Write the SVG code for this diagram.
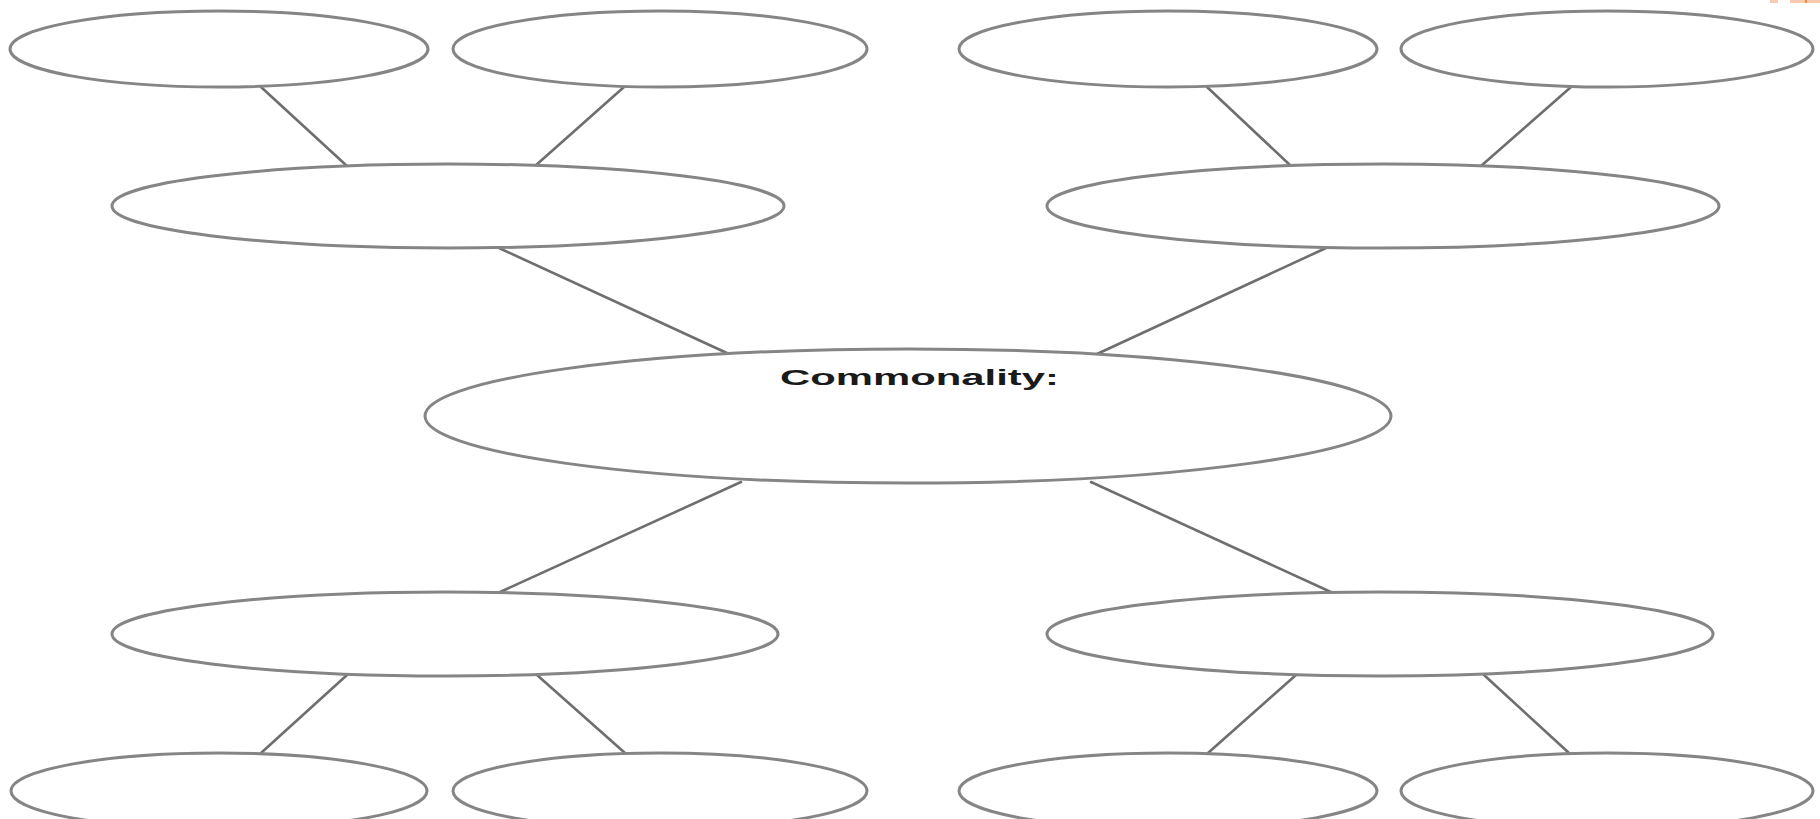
<svg xmlns="http://www.w3.org/2000/svg" width="1820" height="819" viewBox="0 0 1820 819">
<style>
.node ellipse{fill:#ffffff;stroke:#858585;stroke-width:3}
.conn line{stroke:#6e6e6e;stroke-width:2.6;stroke-linecap:round}
.lbl{font-family:"Liberation Sans",Arial,sans-serif;font-weight:bold;font-size:22px;fill:#1a1a1a}
</style>
<rect x="0" y="0" width="1820" height="819" fill="#ffffff"/>
<rect x="1770" y="0" width="8" height="3" fill="#fbc9ad"/>
<rect x="1790" y="0" width="30" height="3" fill="#fbc9ad"/>
<rect x="1805" y="0" width="2" height="3" fill="#f08a4b"/>
<g class="conn" id="connectors">
<line x1="261" y1="87" x2="347" y2="166"/>
<line x1="624" y1="87" x2="535" y2="166"/>
<line x1="1207" y1="87" x2="1291" y2="166"/>
<line x1="1571" y1="87" x2="1481" y2="166"/>
<line x1="499" y1="248" x2="729" y2="354"/>
<line x1="1326" y1="248" x2="1097" y2="354"/>
<line x1="741" y1="482" x2="498" y2="593"/>
<line x1="1091" y1="482" x2="1333" y2="593"/>
<line x1="347" y1="675" x2="261" y2="753"/>
<line x1="537" y1="675" x2="625" y2="753"/>
<line x1="1296" y1="675" x2="1208" y2="753"/>
<line x1="1484" y1="675" x2="1569" y2="753"/>
</g>
<g class="node" id="n-top-l1"><ellipse cx="219" cy="49" rx="209" ry="38"/></g>
<g class="node" id="n-top-l2"><ellipse cx="660" cy="49" rx="207" ry="38"/></g>
<g class="node" id="n-top-r1"><ellipse cx="1168" cy="49" rx="209" ry="38"/></g>
<g class="node" id="n-top-r2"><ellipse cx="1607" cy="49" rx="206" ry="38"/></g>
<g class="node" id="n-mid-l"><ellipse cx="448" cy="206" rx="336" ry="42"/></g>
<g class="node" id="n-mid-r"><ellipse cx="1383" cy="206" rx="336" ry="42"/></g>
<g class="node" id="n-center"><ellipse cx="908" cy="416" rx="483" ry="67"/>
<text class="lbl" x="780" y="385" textLength="279" lengthAdjust="spacingAndGlyphs">Commonality:</text></g>
<g class="node" id="n-low-l"><ellipse cx="445" cy="634" rx="333" ry="42"/></g>
<g class="node" id="n-low-r"><ellipse cx="1380" cy="634" rx="333" ry="42"/></g>
<g class="node" id="n-bot-l1"><ellipse cx="219" cy="791" rx="208" ry="38"/></g>
<g class="node" id="n-bot-l2"><ellipse cx="660" cy="791" rx="207" ry="38"/></g>
<g class="node" id="n-bot-r1"><ellipse cx="1168" cy="791" rx="209" ry="38"/></g>
<g class="node" id="n-bot-r2"><ellipse cx="1607" cy="791" rx="206" ry="38"/></g>
</svg>
